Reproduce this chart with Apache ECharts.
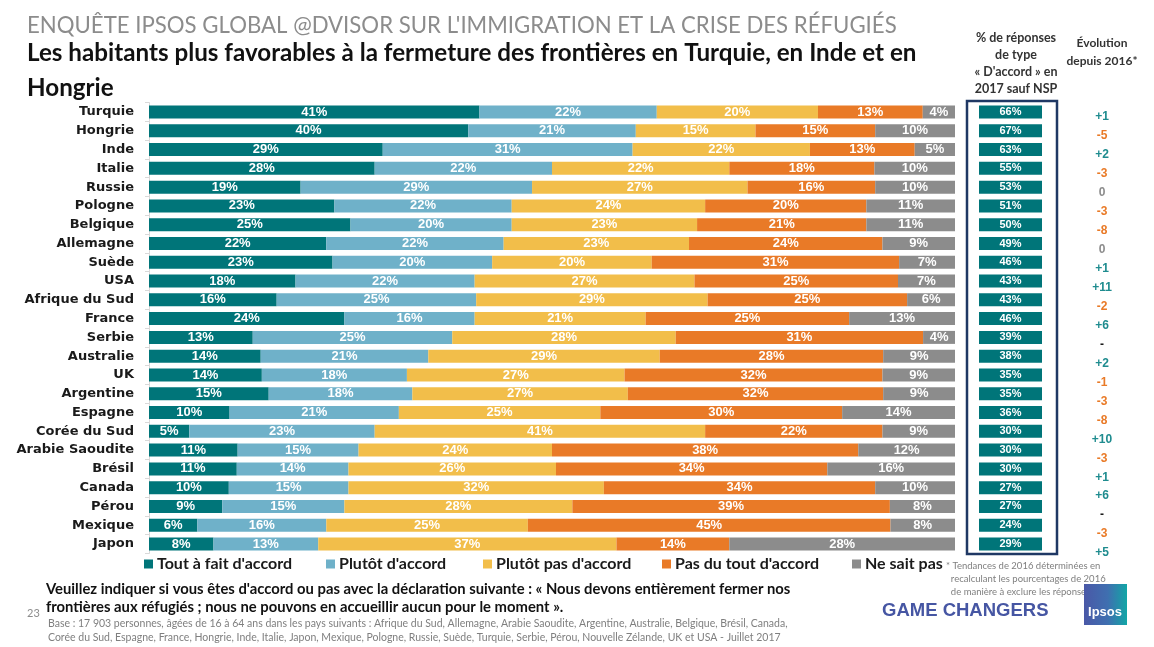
<!DOCTYPE html>
<html><head><meta charset="utf-8">
<script src="https://cdn.jsdelivr.net/npm/echarts@6/dist/echarts.min.js"></script>
<style>html,body{margin:0;padding:0;background:#fff}#c{width:1154px;height:647px}</style>
</head><body><div id="c"></div>
<script>
const countries = ['Turquie','Hongrie','Inde','Italie','Russie','Pologne','Belgique','Allemagne','Suède','USA','Afrique du Sud','France','Serbie','Australie','UK','Argentine','Espagne','Corée du Sud','Arabie Saoudite','Brésil','Canada','Pérou','Mexique','Japon'];
const seriesNames = ["Tout à fait d'accord","Plutôt d'accord","Plutôt pas d'accord","Pas du tout d'accord","Ne sait pas"];
const toutAFait   = [41,40,29,28,19,23,25,22,23,18,16,24,13,14,14,15,10,5,11,11,10,9,6,8];
const plutotAccord= [22,21,31,22,29,22,20,22,20,22,25,16,25,21,18,18,21,23,15,14,15,15,16,13];
const plutotPas   = [20,15,22,22,27,24,23,23,20,27,29,21,28,29,27,27,25,41,24,26,32,28,25,37];
const pasDuTout   = [13,15,13,18,16,20,21,24,31,25,25,25,31,28,32,32,30,22,38,34,34,39,45,14];
const neSaitPas   = [4,10,5,10,10,11,11,9,7,7,6,13,4,9,9,9,14,9,12,16,10,8,8,28];
const accord2017  = [66,67,63,55,53,51,50,49,46,43,43,46,39,38,35,35,36,30,30,30,27,27,24,29];
const evolution   = ['+1','-5','+2','-3','0','-3','-8','0','+1','+11','-2','+6','-','+2','-1','-3','-8','+10','-3','+1','+6','-','-3','+5'];

const colors = ['#007579','#6fb1c9','#f2be4a','#e97a27','#8c8c8c'];
const raw = [toutAFait, plutotAccord, plutotPas, pasDuTout, neSaitPas];
const sums = countries.map((c,i)=>raw.reduce((s,a)=>s+a[i],0));

const HUM = "Lato, 'Liberation Sans', sans-serif";
const SANS = "'Liberation Sans', Arial, sans-serif";

const series = raw.map((arr, k) => ({
  name: seriesNames[k], type: 'bar', stack: 'tot', barWidth: 13,
  xAxisIndex: 0, yAxisIndex: 0,
  itemStyle: {color: colors[k]},
  label: {show: true, position: 'inside', color: '#fff', fontWeight: 'bold', fontSize: 13, fontFamily: SANS,
    formatter: p => p.data.raw + '%'},
  data: arr.map((v,i)=>({value: v/sums[i]*100, raw: v}))
}));

const legendX = [144, 326, 483, 662, 852];
const legends = seriesNames.map((n,k)=>({
  data:[n], left: legendX[k], top: 556, padding: 0, itemWidth: 9, itemHeight: 9, icon: 'rect', itemGap: 5,
  selectedMode: false,
  textStyle: {fontFamily: HUM, fontWeight: 'bold', fontSize: 16, color: '#1a1a1a', padding:[0,0,0,-1]}
}));

const chart = echarts.init(document.getElementById('c'), null, {renderer:'canvas'});
chart.setOption({
  animation: false,
  color: colors,
  legend: legends,
  grid: [
    {left: 149, right: 199, top: 102.6, bottom: 93.6},
    {left: 1110, right: 24, top: 107.5, bottom: 84.5}
  ],
  xAxis: [
    {gridIndex:0, type:'value', min:0, max:100, show:false},
    {gridIndex:1, type:'value', min:0, max:1, show:false}
  ],
  yAxis: [
    {gridIndex:0, type:'category', data: countries, inverse: true,
     axisLine:{show:true, lineStyle:{color:'#d9d9d9'}}, axisTick:{show:true, length:4, lineStyle:{color:'#d9d9d9'}},
     axisLabel:{margin: 15, color:'#1a1a1a', fontFamily:"'DejaVu Sans', sans-serif", fontWeight:'bold', fontSize: 13}},
    {gridIndex:0, type:'category', data: countries, inverse: true, position:'right',
     axisLine:{show:false}, axisTick:{show:false},
     axisLabel:{margin: 24, formatter:(v,i)=>'{b|'+accord2017[i]+'%}',
       rich:{b:{backgroundColor:'#007579', width:63, height:13, lineHeight:13, align:'center', color:'#fff', fontWeight:'bold', fontSize:11, fontFamily:SANS}}}},
    {gridIndex:1, type:'category', data: countries, inverse: true,
     axisLine:{show:false}, axisTick:{show:false},
     axisLabel:{margin: 8, align:'center', formatter:(v,i)=>{
        const e = evolution[i];
        const k = e==='-' ? 'd' : (e==='0' ? 'z' : (e[0]==='+' ? 'p' : 'n'));
        return '{'+k+'|'+e+'}';
      },
      rich:{
        p:{color:'#1f8c8f', fontWeight:'bold', fontSize:12, fontFamily:SANS},
        n:{color:'#e97a27', fontWeight:'bold', fontSize:12, fontFamily:SANS},
        z:{color:'#8c8c8c', fontWeight:'bold', fontSize:12, fontFamily:SANS},
        d:{color:'#1a1a1a', fontWeight:'bold', fontSize:12, fontFamily:SANS}
      }}}
  ],
  series: series,
  graphic: [
    {type:'text', x:27, y:26, style:{text:"ENQUÊTE IPSOS GLOBAL @DVISOR SUR L'IMMIGRATION ET LA CRISE DES RÉFUGIÉS", font:"22.2px "+HUM, fill:'#8c8c8c', textVerticalAlign:'middle'}},
    {type:'text', x:27, y:53, style:{text:"Les habitants plus favorables à la fermeture des frontières en Turquie, en Inde et en", font:"bold 24.2px "+HUM, fill:'#111', textVerticalAlign:'middle'}},
    {type:'text', x:27, y:88, style:{text:"Hongrie", font:"bold 24.2px "+HUM, fill:'#111', textVerticalAlign:'middle'}},
    {type:'text', x:1016, y:63, style:{text:"% de réponses\nde type\n« D'accord » en\n2017 sauf NSP", font:"bold 12.5px "+HUM, fill:'#333', textAlign:'center', textVerticalAlign:'middle', lineHeight:17}},
    {type:'text', x:1102, y:52, style:{text:"Évolution\ndepuis 2016*", font:"bold 12px "+HUM, fill:'#333', textAlign:'center', textVerticalAlign:'middle', lineHeight:18}},
    {type:'rect', shape:{x:967, y:101, width:90, height:453}, style:{fill:'none', stroke:'#1f3864', lineWidth:2.5}},
    {type:'text', x:46, y:589, style:{text:"Veuillez indiquer si vous êtes d'accord ou pas avec la déclaration suivante : « Nous devons entièrement fermer nos", font:"bold 14.8px "+HUM, fill:'#111', textVerticalAlign:'middle'}},
    {type:'text', x:46, y:607, style:{text:"frontières aux réfugiés ; nous ne pouvons en accueillir aucun pour le moment ».", font:"bold 14.8px "+HUM, fill:'#111', textVerticalAlign:'middle'}},
    {type:'text', x:27, y:613, style:{text:"23", font:"11px "+HUM, fill:'#8c8c8c', textVerticalAlign:'middle'}},
    {type:'text', x:48, y:624, style:{text:"Base : 17 903 personnes, âgées de 16 à 64 ans dans les pays suivants : Afrique du Sud, Allemagne, Arabie Saoudite, Argentine, Australie, Belgique, Brésil, Canada,", font:"10.5px "+HUM, fill:'#7f7f7f', textVerticalAlign:'middle'}},
    {type:'text', x:48, y:638, style:{text:"Corée du Sud, Espagne, France, Hongrie, Inde, Italie, Japon, Mexique, Pologne, Russie, Suède, Turquie, Serbie, Pérou, Nouvelle Zélande, UK et USA - Juillet 2017", font:"10.5px "+HUM, fill:'#7f7f7f', textVerticalAlign:'middle'}},
    {type:'text', x:946, y:579, style:{text:"* Tendances de 2016 déterminées en\n  recalculant les pourcentages de 2016\n  de manière à exclure les réponses NSP", font:"9.5px "+HUM, fill:'#7f7f7f', textVerticalAlign:'middle', lineHeight:13}},
    {type:'text', x:882, y:611, style:{text:"GAME CHANGERS", font:"bold 18.5px "+SANS, fill:'#4656a3', textVerticalAlign:'middle'}},
    {type:'rect', shape:{x:1084, y:584, width:43, height:41}, style:{fill:new echarts.graphic.LinearGradient(0,0,1,0,[{offset:0,color:'#4a58a7'},{offset:0.55,color:'#3f6fb0'},{offset:1,color:'#12a6a6'}])}},
    {type:'text', x:1105, y:612, style:{text:"Ipsos", font:"bold 13px "+SANS, fill:'#fff', textAlign:'center', textVerticalAlign:'middle'}}
  ]
});
</script></body></html>
